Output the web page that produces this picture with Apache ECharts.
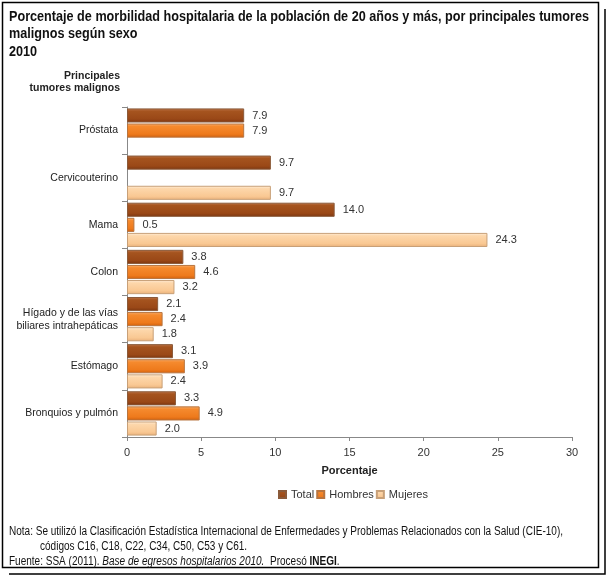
<!DOCTYPE html>
<html>
<head>
<meta charset="utf-8">
<script src="https://cdn.jsdelivr.net/npm/echarts@6/dist/echarts.min.js"></script>
<style>
  html, body { margin: 0; padding: 0; background: #fff; }
  #chart { width: 608px; height: 577px; }
</style>
</head>
<body>
<div id="chart"></div>
<script>
var categories = ['Próstata', 'Cervicouterino', 'Mama', 'Colon', 'Hígado y de las vías\nbiliares intrahepáticas', 'Estómago', 'Bronquios y pulmón'];
var seriesNames = ['Total', 'Hombres', 'Mujeres'];
var totalValues = [7.9, 9.7, 14.0, 3.8, 2.1, 3.1, 3.3];
var hombresValues = [7.9, null, 0.5, 4.6, 2.4, 3.9, 4.9];
var mujeresValues = [null, 9.7, 24.3, 3.2, 1.8, 2.4, 2.0];
var xTicks = [0, 5, 10, 15, 20, 25, 30];
var titleLines = ['Porcentaje de morbilidad hospitalaria de la población de 20 años y más, por principales tumores', 'malignos según sexo', '2010'];
var noteLine1 = 'Nota: Se utilizó la Clasificación Estadística Internacional de Enfermedades y Problemas Relacionados con la Salud (CIE-10),';
var noteLine2 = 'códigos C16, C18, C22, C34, C50, C53 y C61.';
var sourceParts = ['Fuente: SSA (2011). ', 'Base de egresos hospitalarios 2010.', '  Procesó ', 'INEGI', '.'];

var SANS = "'Liberation Sans', Arial, sans-serif";

// condense text horizontally to mimic the narrow font of the original
var measureCtx = document.createElement('canvas').getContext('2d');
function fitScale(text, font, targetWidth) {
  measureCtx.font = font;
  return targetWidth / measureCtx.measureText(text).width;
}
var titleFont = 'bold 14px ' + SANS;
var titleScale = fitScale(titleLines[0], titleFont, 580);
var noteFont = '12px ' + SANS;
var noteScale = fitScale(noteLine1, noteFont, 554);

function grad(c0, c1, c2, c3) {
  return new echarts.graphic.LinearGradient(0, 0, 0, 1, [
    { offset: 0, color: c0 },
    { offset: 0.2, color: c1 },
    { offset: 0.75, color: c2 },
    { offset: 1, color: c3 }
  ]);
}
var styles = [
  { color: grad('#c0764a', '#a5541f', '#9a4817', '#7a3510'), borderColor: '#8a5a3a' },
  { color: grad('#fbb070', '#f58a2e', '#ee7a1c', '#d0600e'), borderColor: '#b8743e' },
  { color: grad('#fff0dc', '#fdd7ab', '#f9c893', '#e8b07a'), borderColor: '#c8a078' }
];
var valueSets = [totalValues, hombresValues, mujeresValues];

var chart = echarts.init(document.getElementById('chart'), null, { renderer: 'canvas' });

var series = seriesNames.map(function (name, i) {
  return {
    name: name,
    type: 'bar',
    data: valueSets[i],
    barCategoryGap: '6%',
    barGap: '7%',
    itemStyle: { color: styles[i].color, borderColor: styles[i].borderColor, borderWidth: 1 },
    label: {
      show: true,
      position: 'right',
      distance: 8,
      fontFamily: SANS,
      fontSize: 11,
      color: '#333',
      formatter: function (p) { return p.value == null ? '' : Number(p.value).toFixed(1); }
    },
    emphasis: { disabled: true }
  };
});

function textEl(x, y, text, font, scale) {
  return { type: 'text', x: x, y: y, scaleX: scale, style: { text: text, font: font, fill: '#111' } };
}

var option = {
  backgroundColor: '#fff',
  animation: false,
  grid: { left: 127, right: 36, top: 107, bottom: 140, containLabel: false },
  legend: {
    data: seriesNames,
    left: 273,
    top: 484,
    icon: 'rect',
    itemWidth: 7,
    itemHeight: 7,
    itemGap: 2,
    textStyle: { fontFamily: SANS, fontSize: 11, color: '#333' }
  },
  xAxis: {
    type: 'value',
    min: 0,
    max: 30,
    interval: 5,
    name: 'Porcentaje',
    nameLocation: 'middle',
    nameGap: 28,
    nameTextStyle: { fontFamily: SANS, fontSize: 11, fontWeight: 'bold', color: '#222' },
    axisLine: { show: true, lineStyle: { color: '#888', width: 1 } },
    axisTick: { show: true, length: 4, lineStyle: { color: '#888' } },
    axisLabel: {
      fontFamily: SANS, fontSize: 11, color: '#333', margin: 10,
      formatter: function (v) { return xTicks.indexOf(v) >= 0 ? String(v) : ''; }
    },
    splitLine: { show: false }
  },
  yAxis: {
    type: 'category',
    data: categories,
    inverse: true,
    axisLine: { show: true, lineStyle: { color: '#888', width: 1 } },
    axisTick: { show: true, length: 5, lineStyle: { color: '#888' } },
    axisLabel: { fontFamily: SANS, fontSize: 10.5, color: '#222', margin: 9, lineHeight: 13 },
    splitLine: { show: false }
  },
  graphic: [
    { type: 'rect', shape: { x: 2.5, y: 2.5, width: 596, height: 565 }, style: { fill: 'none', stroke: '#000', lineWidth: 1.5 } },
    { type: 'polyline', shape: { points: [[605, 9], [605, 574], [9, 574]] }, style: { fill: 'none', stroke: '#000', lineWidth: 1.5 } },
    textEl(9, 10, titleLines[0], titleFont, titleScale),
    textEl(9, 27, titleLines[1], titleFont, titleScale),
    textEl(9, 45, titleLines[2], titleFont, titleScale),
    { type: 'text', x: 120, y: 71, style: { text: 'Principales', align: 'right', font: 'bold 10.5px ' + SANS, fill: '#222' } },
    { type: 'text', x: 120, y: 83, style: { text: 'tumores malignos', align: 'right', font: 'bold 10.5px ' + SANS, fill: '#222' } },
    textEl(9, 526, noteLine1, noteFont, noteScale),
    textEl(40, 541, noteLine2, noteFont, noteScale),
    { type: 'text', x: 9, y: 556, scaleX: noteScale, style: {
      text: '{n|' + sourceParts[0] + '}{i|' + sourceParts[1] + '}{n|' + sourceParts[2] + '}{b|' + sourceParts[3] + '}{n|' + sourceParts[4] + '}',
      rich: {
        n: { font: noteFont, fill: '#111' },
        i: { font: 'italic ' + noteFont, fill: '#111' },
        b: { font: 'bold ' + noteFont, fill: '#111' }
      }
    } }
  ],
  series: series
};
chart.setOption(option);
</script>
</body>
</html>
